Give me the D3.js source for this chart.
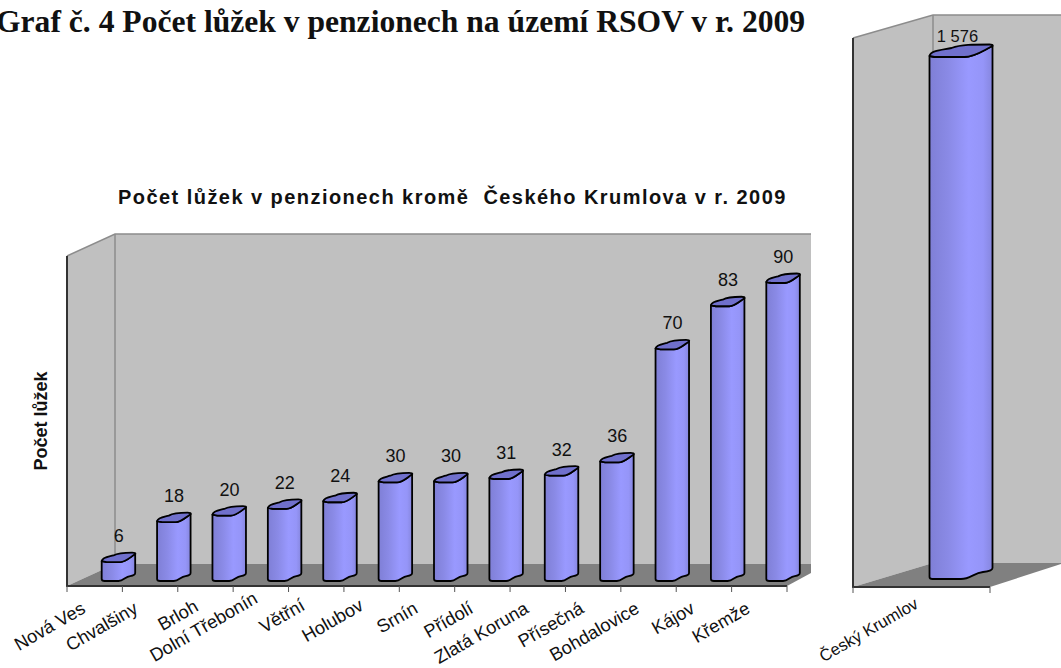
<!DOCTYPE html>
<html>
  <head>
    <meta charset="utf-8" />
    <style>
    body { margin: 0; background: #fff; overflow: hidden; }
    svg { display: block; }
    text { font-family: "Liberation Sans", Arial, sans-serif; fill: #111; white-space: pre; }
    .wall { fill: #c0c0c0; }
    .floor { fill: #808080; }
    .edge { stroke: #8c8c8c; stroke-width: 1.5; fill: none; }
    .axis-line { stroke: #333; stroke-width: 2; fill: none; }
    .tick { stroke: #555; stroke-width: 1; }
    .bar-body { fill: url(#barGrad); stroke: #000; stroke-width: 1.8; stroke-linejoin: round; }
    .bar-top { fill: #7070cc; stroke: #000; stroke-width: 1.8; stroke-linejoin: round; }
    </style>
  </head>
  <body>
    <div id="main"></div>
    <script src="https://d3js.org/d3.v7.min.js"></script>
    <script>

const categories = ["Nová Ves", "Chvalšiny", "Brloh", "Dolní Třebonín", "Větřní", "Holubov", "Srnín",
  "Přídolí", "Zlatá Koruna", "Přísečná", "Bohdalovice", "Kájov", "Křemže"];
const beds = [6, 18, 20, 22, 24, 30, 30, 31, 32, 36, 70, 83, 90];
const bigCategories = ["Český Krumlov"];
const bigBeds = [1576];
const bigLabels = ["1 576"];

const pageTitle = "Graf č. 4 Počet lůžek v penzionech na území RSOV v r. 2009";
const chartTitle = "Počet lůžek v penzionech kromě  Českého Krumlova v r. 2009";
const yTitle = "Počet lůžek";

var svg = d3.select("#main").append("svg")
    .attr("width", 1061)
    .attr("height", 668);

// cylinder shading, darker at the sides
var grad = svg.append("defs").append("linearGradient").attr("id", "barGrad");
[[0, "#7f7fd6"], [0.3, "#8a8ae6"], [0.62, "#9999ff"], [0.85, "#9595f8"], [1, "#8686de"]].forEach(function(s){
  grad.append("stop").attr("offset", s[0]).attr("stop-color", s[1]);
});

function drawFrame(f) {
  var g = svg.append("g");
  g.append("polygon").attr("class", "wall")
    .attr("points", [[f.x0, f.wallTop + f.dy], [f.x0 + f.dx, f.wallTop], [f.x0 + f.dx, f.backY], [f.x0, f.y0]].join(" "));
  g.append("rect").attr("class", "wall")
    .attr("x", f.x0 + f.dx).attr("y", f.wallTop)
    .attr("width", f.xEnd - f.x0 - f.dx).attr("height", f.backY - f.wallTop);
  g.append("polygon").attr("class", "floor")
    .attr("points", [[f.x0, f.y0], [f.x0 + f.dx, f.backY], [f.xEnd, f.backY], [f.xEnd, f.floorEndY], [f.x1, f.y0]].join(" "));
  g.append("path").attr("class", "edge")
    .attr("d", d3.line()([[f.x0, f.wallTop + f.dy], [f.x0 + f.dx, f.wallTop], [f.xEnd, f.wallTop]]));
  g.append("path").attr("class", "edge")
    .attr("d", d3.line()([[f.x0 + f.dx, f.wallTop], [f.x0 + f.dx, f.backY]]));
  g.append("path").attr("class", "axis-line")
    .attr("d", d3.line()([[f.x0, f.wallTop + f.dy], [f.x0, f.y0], [f.x1, f.y0]]));
  return g;
}

// the shape is the odd wavy Excel cylinder, not a clean ellipse
function bodyPath(x, w, top, base, skew) {
  var p = d3.path();
  p.moveTo(x, top);
  p.lineTo(x, base - 2);
  p.quadraticCurveTo(x, base, x + 3, base);
  p.lineTo(x + w * 0.5, base);
  p.bezierCurveTo(x + w * 0.65, base, x + w * 0.7, base - skew * 0.6, x + w * 0.85, base - skew * 0.7);
  p.quadraticCurveTo(x + w, base - skew * 0.8, x + w, base - skew - 1);
  p.lineTo(x + w, top - skew);
  p.bezierCurveTo(x + w * 0.85, top - skew * 0.55, x + w * 0.72, top + 1, x + w * 0.55, top + 1);
  p.lineTo(x + 5, top + 1);
  p.closePath();
  return p.toString();
}

function topPath(x, w, top, skew) {
  var p = d3.path();
  p.moveTo(x, top);
  p.bezierCurveTo(x + 1, top - skew * 0.55, x + w * 0.2, top - skew * 0.6, x + w * 0.35, top - skew * 0.8);
  p.bezierCurveTo(x + w * 0.5, top - skew - 1.5, x + w * 0.7, top - skew - 1.5, x + w - 3, top - skew - 1.5);
  p.quadraticCurveTo(x + w + 1, top - skew - 1.5, x + w, top - skew);
  p.bezierCurveTo(x + w * 0.85, top - skew * 0.55, x + w * 0.72, top + 1, x + w * 0.55, top + 1);
  p.lineTo(x + 5, top + 1);
  p.closePath();
  return p.toString();
}

function drawBars(g, names, values, labels, x, y, o) {
  var rows = names.map(function(n, i){ return {name: n, value: values[i], label: labels[i]}; });
  var bars = g.selectAll(".bar").data(rows).enter().append("g").attr("class", "bar");
  var left = function(d){ return x(d.name) + x.bandwidth() / 2 + o.shift; };
  bars.append("path").attr("class", "bar-body")
    .attr("d", function(d){ return bodyPath(left(d), o.width, y(d.value), y(0), o.skew); });
  bars.append("path").attr("class", "bar-top")
    .attr("d", function(d){ return topPath(left(d), o.width, y(d.value), o.skew); });
  bars.append("text")
    .attr("x", function(d){ return left(d) + o.labelDx; })
    .attr("y", function(d){ return y(d.value) + o.labelDy; })
    .attr("text-anchor", "middle")
    .style("font-size", o.labelSize + "px")
    .text(function(d){ return d.label; });

  // ticks on the front edge
  g.selectAll(".tick").data(x.domain().concat(["end"])).enter().append("line")
    .attr("class", "tick")
    .attr("x1", function(d){ return d === "end" ? x.range()[1] : x(d); })
    .attr("x2", function(d){ return d === "end" ? x.range()[1] : x(d); })
    .attr("y1", o.axisY).attr("y2", o.axisY + 6);

  g.selectAll(".cat").data(rows).enter().append("text")
    .attr("class", "cat")
    .attr("text-anchor", "end")
    .attr("transform", function(d){
      var n = (o.nudge && o.nudge[d.name]) || [0, 0];
      return "translate(" + (x(d.name) + x.bandwidth() / 2 + o.catDx + n[0]) + "," + (o.catY + n[1]) + ") rotate(-30)";
    })
    .style("font-size", o.catSize + "px")
    .text(function(d){ return d.name; });
}

// left chart
var frameA = {x0: 67, x1: 787, xEnd: 811, y0: 586, dx: 48, dy: 22, wallTop: 234, backY: 564, floorEndY: 573};
var gA = drawFrame(frameA);
var xA = d3.scaleBand().domain(categories).range([frameA.x0, frameA.x1]);
var yA = d3.scaleLinear().domain([0, 90]).range([581, 282]);
drawBars(gA, categories, beds, beds, xA, yA, {
  shift: 7, width: 33.5, skew: 7, labelDx: 17, labelDy: -19, labelSize: 18,
  axisY: frameA.y0, catDx: -8, catY: 612, catSize: 18.3,
  // excel placed these a bit off the common line
  nudge: {"Chvalšiny": [-3, 0], "Brloh": [2, -2], "Dolní Třebonín": [6, -10], "Větřní": [-2, -3], "Holubov": [1, -3]}
});

// right chart, Český Krumlov alone because of the scale
var frameB = {x0: 853, x1: 990, xEnd: 1061, y0: 587, dx: 80, dy: 23, wallTop: 15, backY: 563, floorEndY: 564};
var gB = drawFrame(frameB);
var xB = d3.scaleBand().domain(bigCategories).range([frameB.x0, frameB.x1]);
var yB = d3.scaleLinear().domain([0, 1576]).range([579, 56]);
drawBars(gB, bigCategories, bigBeds, bigLabels, xB, yB, {
  shift: 8, width: 63, skew: 10, labelDx: 28, labelDy: -14, labelSize: 16.5,
  axisY: frameB.y0, catDx: -2, catY: 607, catSize: 16.5
});

svg.append("text")
  .attr("x", -4).attr("y", 32)
  .style("font-family", "'Liberation Serif', 'Times New Roman', serif")
  .style("font-weight", "bold").style("font-size", "31.6px")
  .text(pageTitle);

svg.append("text")
  .attr("x", 118).attr("y", 204)
  .style("font-weight", "bold").style("font-size", "20px").style("letter-spacing", "1.45px")
  .text(chartTitle);

svg.append("text")
  .attr("transform", "translate(47,421) rotate(-90)")
  .attr("text-anchor", "middle")
  .style("font-weight", "bold").style("font-size", "18px")
  .text(yTitle);

    </script>
  </body>
</html>
